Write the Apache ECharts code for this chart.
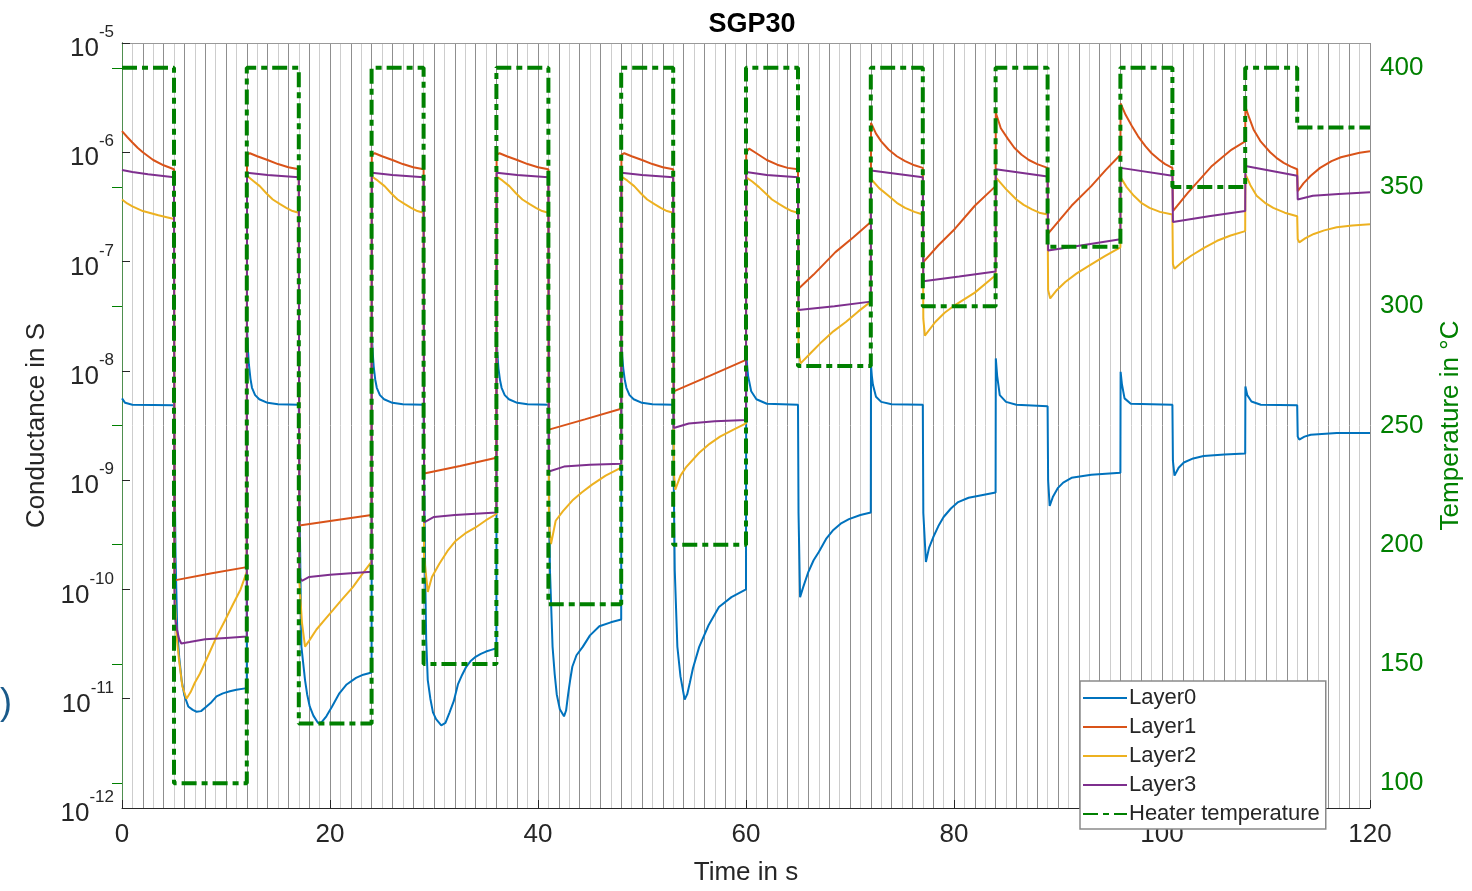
<!DOCTYPE html>
<html>
<head>
<meta charset="utf-8">
<script src="https://cdn.jsdelivr.net/npm/echarts@6/dist/echarts.min.js"></script>
<style>
html,body{margin:0;padding:0;background:#fff;overflow:hidden;width:1472px;height:891px;}
#chart{width:1472px;height:891px;}
</style>
</head>
<body>
<div id="chart"></div>
<script>
// ---- data (time in s, conductance in S) ----
const layer0 = [
[0,5.6e-9],[0.3,5.1e-9],[1,4.9e-9],[5,4.85e-9],
[5.05,1.5e-9],[5.15,2e-10],[5.31,4.3e-11],[5.5,2.4e-11],[5.73,1.48e-11],[6.0,1.07e-11],[6.37,8.5e-12],[6.8,7.9e-12],[7.17,7.6e-12],[7.6,7.7e-12],[8.13,8.5e-12],[8.6,9.3e-12],[9.09,1.05e-11],[9.7,1.12e-11],[10.37,1.17e-11],[11,1.21e-11],[12,1.25e-11],
[12.02,2.4e-8],[12.1,1.6e-8],[12.2,1.15e-8],[12.35,8.5e-9],[12.5,7e-9],[12.8,6e-9],[13.2,5.5e-9],[14,5.1e-9],[15,4.95e-9],[17,4.9e-9],
[17.05,1e-9],[17.15,1.5e-10],[17.25,3e-11],[17.6,1.48e-11],[17.8,1.1e-11],[18.05,8.5e-12],[18.4,7e-12],[18.85,6e-12],[19.2,6.1e-12],[19.65,6.9e-12],[20.2,8.5e-12],[20.9,1.12e-11],[21.6,1.35e-11],[22.5,1.55e-11],[23.2,1.66e-11],[24,1.74e-11],
[24.02,2.2e-8],[24.1,1.5e-8],[24.2,1.1e-8],[24.35,8.3e-9],[24.5,7e-9],[24.8,6e-9],[25.2,5.5e-9],[26,5.1e-9],[27,4.95e-9],[29,4.9e-9],
[29.05,1e-9],[29.15,1.5e-10],[29.25,3.5e-11],[29.4,1.48e-11],[29.65,1e-11],[29.9,7.5e-12],[30.2,6.5e-12],[30.7,5.7e-12],[31.1,6.0e-12],[31.5,7.5e-12],[31.9,9.5e-12],[32.3,1.35e-11],[32.7,1.65e-11],[33.1,1.96e-11],[33.5,2.2e-11],[34,2.42e-11],[34.5,2.57e-11],[35,2.7e-11],[35.5,2.8e-11],[36,2.9e-11],
[36.02,2e-8],[36.1,1.4e-8],[36.2,1.05e-8],[36.35,8.2e-9],[36.5,7e-9],[36.8,6e-9],[37.2,5.5e-9],[38,5.1e-9],[39,4.95e-9],[41,4.9e-9],
[41.05,1e-9],[41.15,1.5e-10],[41.4,3e-11],[41.6,1.7e-11],[41.8,1.1e-11],[42.1,8e-12],[42.5,6.9e-12],[42.7,7.8e-12],[42.9,1.1e-11],[43.1,1.5e-11],[43.3,1.96e-11],[43.7,2.5e-11],[44.3,2.98e-11],[45,3.8e-11],[45.9,4.6e-11],[47,5.0e-11],[48,5.3e-11],
[48.02,1.9e-8],[48.1,1.35e-8],[48.2,1.05e-8],[48.35,8.2e-9],[48.5,7e-9],[48.8,6e-9],[49.2,5.5e-9],[50,5.1e-9],[51,4.95e-9],[53,4.9e-9],
[53.05,1e-9],[53.15,1.5e-10],[53.4,3e-11],[53.7,1.6e-11],[54.1,9.8e-12],[54.35,1.1e-11],[54.6,1.4e-11],[54.9,1.9e-11],[55.5,2.98e-11],[56.4,4.7e-11],[57.4,6.9e-11],[58.6,8.5e-11],[60,1e-10],
[60.02,1.5e-8],[60.1,1.15e-8],[60.2,9e-9],[60.5,6.5e-9],[61,5.5e-9],[62,5e-9],[65,4.9e-9],
[65.05,5e-10],[65.2,8.5e-11],[65.5,1.05e-10],[66,1.45e-10],[66.5,1.85e-10],[67,2.2e-10],[67.7,2.9e-10],[68.4,3.5e-10],[69.1,4.0e-10],[69.9,4.4e-10],[71,4.8e-10],[72,5.06e-10],
[72.02,1.13e-8],[72.1,9e-9],[72.2,7.5e-9],[72.5,5.8e-9],[73,5.2e-9],[74,4.95e-9],[77,4.9e-9],
[77.05,5e-10],[77.3,1.78e-10],[77.6,2.4e-10],[78,3e-10],[78.5,3.8e-10],[79,4.6e-10],[79.7,5.5e-10],[80.4,6.3e-10],[81.4,6.9e-10],[82.4,7.2e-10],[84,7.7e-10],
[84.02,1.3e-8],[84.15,9e-9],[84.4,6e-9],[85,5.2e-9],[86,4.9e-9],[89,4.75e-9],
[89.05,1e-9],[89.2,5.8e-10],[89.5,7e-10],[90,8.5e-10],[90.5,9.5e-10],[91.3,1.05e-9],[93.2,1.12e-9],[96,1.17e-9],
[96.02,9.8e-9],[96.15,7.5e-9],[96.4,5.6e-9],[97,5.0e-9],[101,4.9e-9],
[101.05,1.5e-9],[101.2,1.1e-9],[101.6,1.3e-9],[102.1,1.45e-9],[103,1.58e-9],[104,1.66e-9],[106,1.72e-9],[108,1.75e-9],
[108.02,7.2e-9],[108.2,6e-9],[108.6,5.25e-9],[109.5,4.9e-9],[113,4.85e-9],
[113.05,2.5e-9],[113.2,2.35e-9],[113.7,2.5e-9],[114.3,2.6e-9],[116.8,2.7e-9],[120,2.7e-9]
];
const layer1 = [
[0,1.56e-6],[0.5,1.38e-6],[1,1.23e-6],[1.5,1.1e-6],[2,1.0e-6],[3,8.5e-7],[4,7.6e-7],[5,7.0e-7],
[5.05,1.21e-10],[8.5,1.4e-10],[12,1.6e-10],
[12.02,9.5e-7],[12.3,9.8e-7],[13,9.2e-7],[14,8.5e-7],[15,7.8e-7],[16,7.3e-7],[17,7.0e-7],
[17.05,3.85e-10],[20.5,4.3e-10],[24,4.8e-10],
[24.02,9.5e-7],[24.3,9.8e-7],[25,9.2e-7],[26,8.5e-7],[27,7.8e-7],[28,7.3e-7],[29,7.0e-7],
[29.05,1.15e-9],[32.5,1.35e-9],[36,1.6e-9],
[36.02,9.5e-7],[36.3,9.8e-7],[37,9.2e-7],[38,8.5e-7],[39,7.8e-7],[40,7.3e-7],[41,7.0e-7],
[41.05,2.9e-9],[44.5,3.6e-9],[48,4.5e-9],
[48.02,9.5e-7],[48.3,9.8e-7],[49,9.2e-7],[50,8.5e-7],[51,7.8e-7],[52,7.3e-7],[53,7.0e-7],
[53.05,6.5e-9],[56.5,9.0e-9],[60,1.26e-8],
[60.02,1.0e-6],[60.3,1.08e-6],[61,9.8e-7],[62,8.5e-7],[63,7.7e-7],[64,7.2e-7],[65,7.0e-7],
[65.05,5.65e-8],[66.5,7.6e-8],[68.6,1.22e-7],[70.3,1.66e-7],[72,2.3e-7],
[72.02,1.86e-6],[72.5,1.48e-6],[73,1.26e-6],[73.7,1.06e-6],[74.5,9.2e-7],[75.3,8.3e-7],[76.2,7.6e-7],[77,7.2e-7],
[77.05,9.9e-8],[78.5,1.41e-7],[80.1,2.0e-7],[82,3.24e-7],[84,4.9e-7],
[84.02,2.3e-6],[84.5,1.66e-6],[85.2,1.32e-6],[85.8,1.1e-6],[86.5,9.5e-7],[87.2,8.5e-7],[88,7.8e-7],[89,7.2e-7],
[89.05,1.8e-7],[91.3,3.24e-7],[93.2,4.9e-7],[94.6,6.9e-7],[96,9.5e-7],
[96.02,2.8e-6],[96.5,2.2e-6],[97.1,1.74e-6],[97.7,1.4e-6],[98.4,1.14e-6],[99.0,9.8e-7],[99.7,8.6e-7],[100.3,7.8e-7],[101,7.2e-7],
[101.05,2.9e-7],[102.5,4.27e-7],[103.6,5.6e-7],[104.8,7.5e-7],[105.8,9.0e-7],[106.7,1.06e-6],[108,1.26e-6],
[108.02,2.6e-6],[108.4,2.05e-6],[108.8,1.62e-6],[109.5,1.25e-6],[110.4,1.0e-6],[111,8.9e-7],[111.7,8.0e-7],[112.4,7.4e-7],[113,7.0e-7],
[113.05,4.4e-7],[113.6,5.2e-7],[114.3,6.1e-7],[115.2,7.2e-7],[116.3,8.3e-7],[117.2,9.0e-7],[118.2,9.5e-7],[119,9.9e-7],[120,1.02e-6]
];
const layer2 = [
[0,3.7e-7],[0.5,3.4e-7],[1,3.2e-7],[2,2.9e-7],[3.5,2.65e-7],[5,2.45e-7],
[5.05,1.0e-10],[5.25,3.7e-11],[5.5,2.2e-11],[5.8,1.3e-11],[6.2,1.0e-11],[6.6,1.15e-11],[7.0,1.4e-11],[7.5,1.7e-11],[8.3,2.5e-11],[9.1,3.7e-11],[9.9,5.2e-11],[10.7,7.4e-11],[11.4,1.0e-10],[12,1.45e-10],
[12.02,6.1e-7],[12.6,5.5e-7],[13.25,4.9e-7],[13.9,4.2e-7],[14.5,3.7e-7],[15.2,3.35e-7],[15.8,3.1e-7],[16.4,2.9e-7],[17,2.8e-7],
[17.05,1.2e-10],[17.3,5e-11],[17.6,3e-11],[18.0,3.4e-11],[18.7,4.3e-11],[19.5,5.3e-11],[20.3,6.5e-11],[21.2,8.2e-11],[22.2,1.05e-10],[23.1,1.38e-10],[24,1.8e-10],
[24.02,6.0e-7],[24.6,5.5e-7],[25.25,4.9e-7],[25.9,4.2e-7],[26.5,3.7e-7],[27.2,3.35e-7],[27.8,3.1e-7],[28.4,2.9e-7],[29,2.8e-7],
[29.05,2.0e-10],[29.4,9.5e-11],[29.8,1.3e-10],[30.5,1.71e-10],[31.3,2.25e-10],[32.1,2.79e-10],[33,3.25e-10],[34,3.69e-10],[35,4.3e-10],[36,4.9e-10],
[36.02,6.0e-7],[36.6,5.5e-7],[37.25,4.9e-7],[37.9,4.2e-7],[38.5,3.7e-7],[39.2,3.35e-7],[39.8,3.1e-7],[40.4,2.9e-7],[41,2.8e-7],
[41.05,4e-10],[41.25,2.6e-10],[41.7,4.25e-10],[42.4,5.2e-10],[43.3,6.5e-10],[44.2,7.7e-10],[45.2,9.1e-10],[46.5,1.1e-9],[48,1.3e-9],
[48.02,6.0e-7],[48.6,5.5e-7],[49.25,4.9e-7],[49.9,4.2e-7],[50.5,3.7e-7],[51.2,3.35e-7],[51.8,3.1e-7],[52.4,2.9e-7],[53,2.8e-7],
[53.05,1.2e-9],[53.2,8.2e-10],[53.7,1.1e-9],[54.2,1.3e-9],[55.5,1.78e-9],[56.5,2.15e-9],[57.5,2.5e-9],[58.8,2.9e-9],[60,3.3e-9],
[60.02,5.9e-7],[60.6,5.4e-7],[61.25,4.8e-7],[61.9,4.2e-7],[62.5,3.7e-7],[63.2,3.35e-7],[63.8,3.1e-7],[64.4,2.9e-7],[65,2.8e-7],
[65.05,1.5e-8],[65.25,1.17e-8],[66.2,1.45e-8],[67.3,1.85e-8],[68.4,2.3e-8],[69.6,2.8e-8],[70.8,3.5e-8],[72,4.3e-8],
[72.02,5.7e-7],[72.8,4.7e-7],[73.7,4.0e-7],[74.5,3.45e-7],[75.3,3.1e-7],[76.2,2.85e-7],[77,2.7e-7],
[77.05,3e-8],[77.2,2.1e-8],[78.2,2.8e-8],[79.1,3.4e-8],[80.1,4.0e-8],[82,5.2e-8],[84,7.5e-8],
[84.02,5.9e-7],[85,4.6e-7],[86,3.7e-7],[86.7,3.3e-7],[87.5,3.0e-7],[88.2,2.8e-7],[89,2.7e-7],
[89.05,5.5e-8],[89.25,4.6e-8],[89.9,5.5e-8],[90.7,6.5e-8],[91.8,7.8e-8],[93,9.2e-8],[94.5,1.12e-7],[96,1.35e-7],
[96.02,5.9e-7],[96.6,4.8e-7],[97.3,4.0e-7],[98,3.45e-7],[98.8,3.1e-7],[99.8,2.85e-7],[101,2.7e-7],
[101.05,9.5e-8],[101.2,8.6e-8],[102,1.0e-7],[102.8,1.13e-7],[104,1.33e-7],[105.3,1.55e-7],[106.6,1.73e-7],[108,1.9e-7],
[108.02,6.3e-7],[108.5,5.0e-7],[109.1,4.0e-7],[109.9,3.45e-7],[110.7,3.1e-7],[111.8,2.8e-7],[113,2.6e-7],
[113.05,1.6e-7],[113.2,1.5e-7],[113.8,1.64e-7],[114.6,1.79e-7],[115.6,1.93e-7],[116.8,2.06e-7],[118.3,2.14e-7],[120,2.2e-7]
];
const layer3 = [
[0,6.9e-7],[1,6.6e-7],[2.5,6.3e-7],[5,5.9e-7],
[5.05,6e-11],[5.3,4.2e-11],[5.5,3.5e-11],[5.7,3.2e-11],[6.5,3.3e-11],[8,3.5e-11],[10,3.6e-11],[12,3.7e-11],
[12.02,6.5e-7],[14,6.2e-7],[17,5.9e-7],
[17.05,1.3e-10],[17.3,1.2e-10],[18,1.3e-10],[20,1.36e-10],[24,1.45e-10],
[24.02,6.5e-7],[26,6.2e-7],[29,5.9e-7],
[29.05,4.1e-10],[30,4.6e-10],[32,4.8e-10],[36,5.06e-10],
[36.02,6.5e-7],[38,6.2e-7],[41,5.9e-7],
[41.05,1.2e-9],[42.5,1.33e-9],[45,1.38e-9],[48,1.41e-9],
[48.02,6.5e-7],[50,6.2e-7],[53,5.9e-7],
[53.05,3.0e-9],[54.5,3.3e-9],[57,3.45e-9],[60,3.55e-9],
[60.02,6.6e-7],[62,6.2e-7],[65,5.9e-7],
[65.05,3.6e-8],[68.5,3.9e-8],[72,4.3e-8],
[72.02,6.8e-7],[77,5.9e-7],
[77.05,6.6e-8],[80.5,7.3e-8],[84,8.1e-8],
[84.02,7.0e-7],[89,6.0e-7],
[89.05,1.26e-7],[92.5,1.42e-7],[96,1.6e-7],
[96.02,7.2e-7],[101,6.1e-7],
[101.05,2.3e-7],[104.5,2.6e-7],[108,2.9e-7],
[108.02,7.5e-7],[113,6.1e-7],
[113.05,3.7e-7],[114.5,4.0e-7],[117,4.15e-7],[120,4.3e-7]
];
const heaterTimes = [0,5,5,12,12,17,17,24,24,29,29,36,36,41,41,48,48,53,53,60,60,65,65,72,72,77,77,84,84,89,89,96,96,101,101,108,108,113,113,120];
const heaterTemps = [400,400,100,100,400,400,125,125,400,400,150,150,400,400,175,175,400,400,200,200,400,400,275,275,400,400,300,300,400,400,325,325,400,400,350,350,400,400,375,375];
const xTicks = [0,20,40,60,80,100,120];
const tempTicks = [100,150,200,250,300,350,400];
const seriesNames = ['Layer0','Layer1','Layer2','Layer3','Heater temperature'];

const heater = heaterTimes.map((t,i)=>[t,heaterTemps[i]]);
const colors = ['#0072BD','#D95319','#EDB120','#7E2F8E','#008000'];
const FONT = '"Liberation Sans", Arial, sans-serif';
const txt = '#262626';

const chart = echarts.init(document.getElementById('chart'), null, {renderer:'canvas', width:1472, height:891});
function lineSeries(name, data, color){
  return {name, type:'line', data, xAxisIndex:0, yAxisIndex:0, symbol:'none', showSymbol:false,
    lineStyle:{color, width:2}, itemStyle:{color}, z:3, silent:true};
}
chart.setOption({
  animation:false,
  backgroundColor:'#fff',
  title:{text:'SGP30', left:747, top:6, textAlign:'center',
    textStyle:{fontFamily:FONT, fontSize:27, fontWeight:'bold', color:'#000'}},
  grid:{left:122, right:100, top:43, bottom:79, containLabel:false},
  xAxis:[
    {type:'value', min:0, max:120, interval:20, position:'bottom',
     axisLine:{show:true, lineStyle:{color:txt, width:1}},
     axisTick:{show:true, inside:true, length:8, lineStyle:{color:txt}},
     axisLabel:{fontFamily:FONT, fontSize:26, color:txt, margin:14, customValues: xTicks},
     splitLine:{show:false},
     name:'Time in s', nameLocation:'middle', nameGap:52,
     nameTextStyle:{fontFamily:FONT, fontSize:26, color:txt}},
    {type:'value', min:0, max:120, interval:1, position:'top',
     axisLine:{show:true, lineStyle:{color:'#999', width:1}},
     axisTick:{show:false}, axisLabel:{show:false},
     splitLine:{show:true, lineStyle:{color:['#8f8f8f','#cdcdcd'], width:1}}}
  ],
  yAxis:[
    {type:'log', logBase:10, min:1e-12, max:1e-5, position:'left',
     axisLine:{show:true, lineStyle:{color:txt, width:1}},
     axisTick:{show:true, inside:true, length:8, lineStyle:{color:txt}},
     splitLine:{show:false}, minorTick:{show:false},
     axisLabel:{margin:8, formatter:function(v){
        const e = Math.round(Math.log10(v));
        return '{b|10}{s|' + e + '}';
       },
       rich:{b:{fontFamily:FONT, fontSize:26, color:txt, padding:[12,0,0,0], verticalAlign:'bottom'},
             s:{fontFamily:FONT, fontSize:17, color:txt, verticalAlign:'top'}}},
     name:'Conductance in S', nameLocation:'middle', nameRotate:90, nameGap:72,
     nameTextStyle:{fontFamily:FONT, fontSize:26, color:txt}},
    {type:'value', min:89.6, max:410.4, position:'right',
     axisLine:{show:true, lineStyle:{color:'#4f8f4f', width:1}},
     axisTick:{show:true, inside:true, length:10, lineStyle:{color:'#008000'}, customValues:tempTicks},
     axisLabel:{fontFamily:FONT, fontSize:26, color:'#008000', margin:10, customValues:tempTicks},
     splitLine:{show:false},
     name:'Temperature in °C', nameLocation:'middle', nameRotate:90, nameGap:68,
     nameTextStyle:{fontFamily:FONT, fontSize:26, color:'#008000', verticalAlign:'top'}}
  ],
  legend:{orient:'vertical', left:1080, top:681, data:seriesNames,
    itemWidth:44, itemHeight:14, itemGap:7,
    itemStyle:{opacity:0},
    backgroundColor:'#fff', borderColor:'#8a8a8a', borderWidth:1.5, borderRadius:0,
    padding:[6,6,4,2],
    textStyle:{fontFamily:FONT, fontSize:22, color:txt, padding:[0,0,0,-3]}, z:10},
  graphic:[{type:'text', left:0, top:686, style:{text:')', fontFamily:FONT, fontSize:36, fill:'#1a5a8a'}}],
  series:[
    lineSeries(seriesNames[0], layer0, colors[0]),
    lineSeries(seriesNames[1], layer1, colors[1]),
    lineSeries(seriesNames[2], layer2, colors[2]),
    lineSeries(seriesNames[3], layer3, colors[3]),
    {name:seriesNames[4], type:'line', data:heater, xAxisIndex:0, yAxisIndex:1, symbol:'none', showSymbol:false,
     lineStyle:{color:colors[4], width:4, type:[15,5,6,5], cap:'butt'}, itemStyle:{color:colors[4]}, z:5, silent:true}
  ]
});
</script>
</body>
</html>
